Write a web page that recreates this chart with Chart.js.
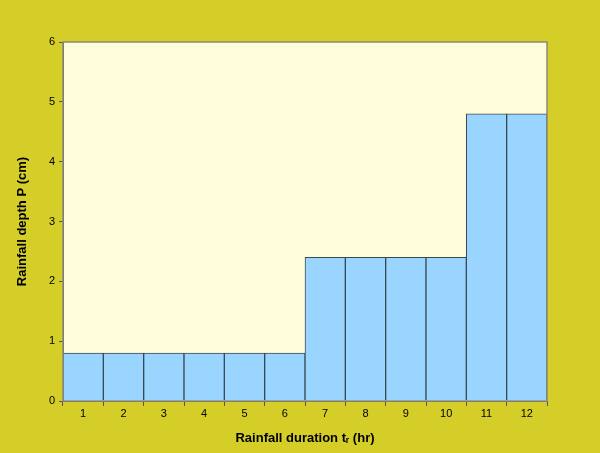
<!DOCTYPE html>
<html>
<head>
<meta charset="utf-8">
<script src="https://cdn.jsdelivr.net/npm/chart.js@4"></script>
<style>
  html, body { margin: 0; padding: 0; background: #D6CE28; }
  #wrap { width: 600px; height: 453px; }
</style>
</head>
<body>
<div id="wrap"><canvas id="rainChart"></canvas></div>
<script>
// hours of rainfall and the depth for each hour
const durations = ['1', '2', '3', '4', '5', '6', '7', '8', '9', '10', '11', '12'];
const depths = [0.8, 0.8, 0.8, 0.8, 0.8, 0.8, 2.4, 2.4, 2.4, 2.4, 4.8, 4.8];

const plotBackground = {
	id: 'plotBackground',
	beforeDraw(chart) {
		const { ctx, chartArea: a } = chart;
		ctx.save();
		ctx.fillStyle = '#D6CE28';
		ctx.fillRect(0, 0, chart.width, chart.height);
		ctx.fillStyle = '#FFFDD9';
		ctx.fillRect(a.left, a.top, a.right - a.left, a.bottom - a.top);
		ctx.restore();
	},
	afterDraw(chart) {
		const { ctx, chartArea: a } = chart;
		ctx.save();
		ctx.strokeStyle = '#8A8A7A';
		ctx.lineWidth = 1.5;
		ctx.strokeRect(a.left, a.top, a.right - a.left, a.bottom - a.top);
		ctx.restore();
	}
};

const ctx = document.getElementById('rainChart').getContext('2d');
new Chart(ctx, {
	type: 'bar',
	data: {
		labels: durations,
		datasets: [{
			data: depths,
			backgroundColor: '#99D5FF',
			borderColor: '#3A4A55',
			borderWidth: 1,
			barPercentage: 1,
			categoryPercentage: 1
		}]
	},
	options: {
		responsive: true,
		maintainAspectRatio: false,
		animation: false,
		layout: { padding: { top: 42, right: 53, left: 0, bottom: 0 } },
		plugins: {
			legend: { display: false },
			tooltip: { enabled: false }
		},
		scales: {
			x: {
				offset: true,
				grid: { offset: true, drawOnChartArea: false, tickLength: 5, color: '#555' },
				border: { color: '#555' },
				ticks: { color: '#000', font: { family: 'Liberation Sans', size: 11 }, padding: 1 },
				title: {
					display: true,
					text: 'Rainfall duration tᵣ (hr)',
					color: '#000',
					font: { family: 'Liberation Sans', size: 13, weight: 'bold' },
					padding: { top: 5, bottom: 7 }
				},
				afterFit(scale) { scale.height = 52; }
			},
			y: {
				min: 0,
				max: 6,
				grid: { drawOnChartArea: false, tickLength: 4, color: '#555' },
				border: { color: '#555' },
				ticks: { stepSize: 1, color: '#000', font: { family: 'Liberation Sans', size: 11 }, padding: 4 },
				title: {
					display: true,
					text: 'Rainfall depth P (cm)',
					color: '#000',
					font: { family: 'Liberation Sans', size: 13, weight: 'bold' },
					padding: { top: 15, bottom: 0 }
				},
				afterFit(scale) { scale.width = 63; }
			}
		}
	},
	plugins: [plotBackground]
});
</script>
</body>
</html>
